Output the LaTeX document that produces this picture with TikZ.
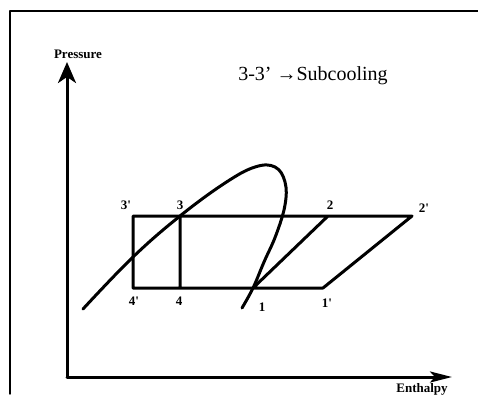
\documentclass[tikz,border=0pt]{standalone}
\usepackage{fontspec}
\setmainfont{Liberation Serif}
\usetikzlibrary{arrows.meta}
\begin{document}
\begin{tikzpicture}[x=1pt,y=-1pt,line join=round,line cap=round,
	cyc/.style={line width=3pt},
	axis/.style={line width=3pt},
	lbl/.style={font=\fontsize{13}{15}\selectfont\bfseries,inner sep=0pt}]
	\useasboundingbox (0,0) rectangle (478,394);
	\draw[line width=1.4pt] (10,394)--(10,11)--(478,11);
	\path
	(67,377) coordinate (O)
	(67,62) coordinate (P)
	(452,377) coordinate (H)
	(133,216) coordinate (3p)
	(180,216) coordinate (3)
	(328,216) coordinate (2)
	(412,216) coordinate (2p)
	(133,288) coordinate (4p)
	(180,288) coordinate (4)
	(253,288) coordinate (1)
	(323,288) coordinate (1p)
	;
	% axes
	\draw[axis,-{Stealth[length=21pt,width=18pt,inset=6pt]}] (O)--(P);
	\draw[axis,-{Stealth[length=22pt,width=11pt,inset=5pt]}] (O)--(H);
	\node[lbl] (pr) at (78,54) {Pressure};
	\node[lbl] (en) at (422,389) {Enthalpy};
	% cycle
	\draw[cyc]
	(3p)--(2p)--(1p)--(4p)--cycle
	(3)--(4) (1)--(2)
	;
	% saturation dome
	\draw[cyc] plot[smooth,tension=0.65] coordinates {(83,309) (133,257) (180,216) (225,183) (255,167) (275,167) (285,182) (285,205) (276,235) (264,262) (253,288) (242,308)};
	\foreach \p/\t/\x/\y in {3p/3\textquotesingle/126/205,3/3/180/205,2/2/330/205,2p/2\textquotesingle/424/208,
		4p/4\textquotesingle/134/301,4/4/179/301,1/1/262/307,1p/1\textquotesingle/327/303}
	\node[lbl] (l\p) at (\x,\y) {\t};
	\node[font=\fontsize{20}{24}\selectfont,inner sep=0pt] (sub) at (313,76) {3-3’ →Subcooling};
\end{tikzpicture}
\end{document}
